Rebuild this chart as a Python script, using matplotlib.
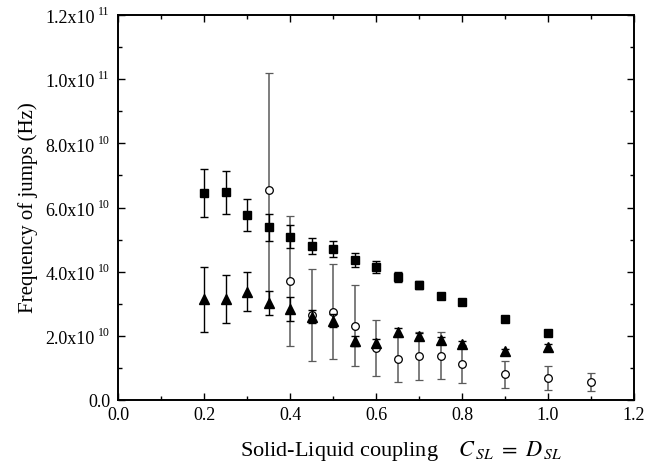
import matplotlib
matplotlib.use("Agg")
import matplotlib.pyplot as plt
from matplotlib.ticker import MultipleLocator, FixedLocator

plt.rcParams['font.family'] = ['Liberation Serif', 'DejaVu Serif']
plt.rcParams['mathtext.fontset'] = 'stix'

# Squares
sq_x = [0.2, 0.25, 0.3, 0.35, 0.4, 0.45, 0.5, 0.55, 0.6, 0.65, 0.7, 0.75, 0.8, 0.9, 1.0]
sq_y = [6.44, 6.48, 5.78, 5.38, 5.09, 4.80, 4.71, 4.36, 4.15, 3.84, 3.59, 3.23, 3.06, 2.52, 2.08]
sq_e = [0.75, 0.67, 0.50, 0.41, 0.36, 0.26, 0.26, 0.22, 0.19, 0.15, 0.12, 0.08, 0.05, 0.05, 0.06]

# Triangles
tr_x = [0.2, 0.25, 0.3, 0.35, 0.4, 0.45, 0.5, 0.55, 0.6, 0.65, 0.7, 0.75, 0.8, 0.9, 1.0]
tr_y = [3.14, 3.16, 3.38, 3.03, 2.83, 2.60, 2.47, 1.85, 1.79, 2.11, 2.00, 1.86, 1.75, 1.52, 1.66]
tr_e = [1.02, 0.75, 0.60, 0.38, 0.37, 0.20, 0.20, 0.16, 0.10, 0.13, 0.10, 0.10, 0.08, 0.08, 0.10]

# Open circles
ci_x = [0.35, 0.4, 0.45, 0.5, 0.55, 0.6, 0.65, 0.7, 0.75, 0.8, 0.9, 1.0, 1.1]
ci_y = [6.55, 3.71, 2.64, 2.75, 2.32, 1.61, 1.27, 1.37, 1.38, 1.12, 0.80, 0.69, 0.55]
ci_e = [3.63, 2.03, 1.43, 1.48, 1.27, 0.87, 0.70, 0.75, 0.74, 0.60, 0.42, 0.37, 0.28]

scale = 1e10
y_ticks = [0.0, 2e10, 4e10, 6e10, 8e10, 1e11, 1.2e11]
y_base = ["0.0", "2.0x10", "4.0x10", "6.0x10", "8.0x10", "1.0x10", "1.2x10"]
y_exp = ["", "10", "10", "10", "10", "11", "11"]
x_ticks = [0.0, 0.2, 0.4, 0.6, 0.8, 1.0, 1.2]
x_labels = ["0.0", "0.2", "0.4", "0.6", "0.8", "1.0", "1.2"]

fig = plt.figure(figsize=(6.45, 4.7), dpi=100)
ax = fig.add_axes([118/645, 70/470, (634-118)/645, (400-15)/470])

ax.errorbar(ci_x, [v*scale for v in ci_y], yerr=[v*scale for v in ci_e], fmt='o',
            ms=5.5, mfc='white', mec='black', mew=0.9, ecolor='#5a5a5a', elinewidth=1.1,
            capsize=3, capthick=1.1, zorder=2)
ax.errorbar(sq_x, [v*scale for v in sq_y], yerr=[v*scale for v in sq_e], fmt='s',
            ms=5.7, color='black', ecolor='black', elinewidth=1.0,
            capsize=3, capthick=1.0, zorder=3)
ax.errorbar(tr_x, [v*scale for v in tr_y], yerr=[v*scale for v in tr_e], fmt='^',
            ms=6.7, color='black', ecolor='black', elinewidth=1.0,
            capsize=3, capthick=1.0, zorder=3)

ax.set_xlim(0, 1.2)
ax.set_ylim(0, 1.2e11)
ax.xaxis.set_major_locator(FixedLocator(x_ticks))
ax.set_xticklabels(x_labels)
ax.xaxis.set_minor_locator(MultipleLocator(0.1))
ax.yaxis.set_major_locator(FixedLocator(y_ticks))
ax.set_yticklabels([])
ax.yaxis.set_minor_locator(MultipleLocator(1e10))

ax.tick_params(which='both', direction='in', top=True, right=True, width=1.0)
ax.tick_params(axis='x', labelsize=13, pad=5)
ax.tick_params(which='major', length=5)
ax.tick_params(which='minor', length=3)
for s in ax.spines.values():
    s.set_linewidth(1.4)

# y tick labels: base text plus small raised exponent
for yv, b, e in zip(y_ticks, y_base, y_exp):
    if e:
        ax.annotate(b, xy=(0, yv), xycoords=('axes fraction', 'data'),
                    xytext=(-16.8, -6.0), textcoords='offset points',
                    ha='right', va='baseline', fontsize=13)
        ax.annotate(e, xy=(0, yv), xycoords=('axes fraction', 'data'),
                    xytext=(-14.2, -0.2), textcoords='offset points',
                    ha='left', va='baseline', fontsize=8.5)
    else:
        ax.annotate(b, xy=(0, yv), xycoords=('axes fraction', 'data'),
                    xytext=(-5.5, -5.0), textcoords='offset points',
                    ha='right', va='baseline', fontsize=13)

ax.set_ylabel("Frequency of jumps (Hz)", fontsize=15, labelpad=54)
ax.set_xlabel(r"Solid-Liquid coupling $\quad\mathit{C}_{\,\mathit{SL}}\ =\ \mathit{D}_{\,\mathit{SL}}$",
              fontsize=16, labelpad=11)
ax.xaxis.label.set_x(0.5 + 25/516)

fig.savefig("out.png", dpi=100)
